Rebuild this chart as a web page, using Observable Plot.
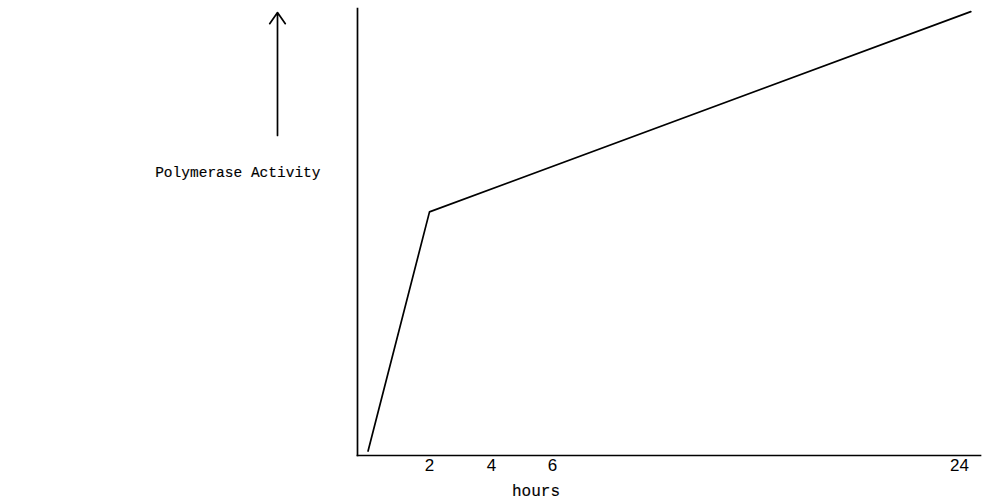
<!DOCTYPE html>
<html><head><meta charset="utf-8">
<script src="https://cdn.jsdelivr.net/npm/d3@7"></script>
<script src="https://cdn.jsdelivr.net/npm/@observablehq/plot@0.6"></script>
<style>body{margin:0;background:#fff}</style>
</head><body><div id="chart"></div>
<script>
// Data
const hours = [0.05, 2, 24.5];
const activity = [1, 54.5, 99.3];
const tickHours = [2, 4, 6, 24];
const tickLabels = ["2", "4", "6", "24"];
const xLabel = "hours";
const yLabel = "Polymerase Activity";
// annotation arrow (y in activity units)
const arrowFrom = [71.6];
const arrowTo = [99.1];

const series = hours.map((h, i) => ({hours: h, activity: activity[i]}));
const tickFormat = d => tickLabels[tickHours.indexOf(d)];

const chart = Plot.plot({
  width: 1003,
  height: 504,
  marginLeft: 357,
  marginRight: 23,
  marginTop: 8,
  marginBottom: 49,
  style: {background: "#fff", color: "#000"},
  x: {type: "linear", domain: [0, 2, 4, 6, 24], range: [366, 429, 491, 552, 959]},
  y: {domain: [0, 100]},
  marks: [
    Plot.frame({anchor: "left", stroke: "#000", strokeWidth: 1.7}),
    Plot.frame({anchor: "bottom", stroke: "#000", strokeWidth: 1.7}),
    Plot.line(series, {x: "hours", y: "activity", stroke: "#000", strokeWidth: 1.7}),
    Plot.axisX(tickHours, {tickSize: 0, tickPadding: 3, tickFormat, label: null,
      fontSize: 17, fontFamily: "Liberation Sans, sans-serif", fill: "#000"}),
    Plot.axisY({ticks: [], label: null}),
    Plot.text([xLabel], {frameAnchor: "bottom", dx: -133, dy: 40,
      fontSize: 16, fontFamily: "Liberation Mono, monospace", fill: "#000",
      stroke: "#000", strokeWidth: 0.15}),
    Plot.text([yLabel], {frameAnchor: "left", textAnchor: "end", dx: -37, dy: -60,
      fontSize: 14.5, fontFamily: "Liberation Mono, monospace", fill: "#000",
      stroke: "#000", strokeWidth: 0.15}),
    Plot.arrow(arrowFrom.map((a, i) => ({a, b: arrowTo[i]})), {
      x1: 0, x2: 0, y1: "a", y2: "b", dx: -89,
      stroke: "#000", strokeWidth: 1.7, headLength: 12, headAngle: 70})
  ]
});
document.getElementById("chart").append(chart);
</script>
</body></html>
